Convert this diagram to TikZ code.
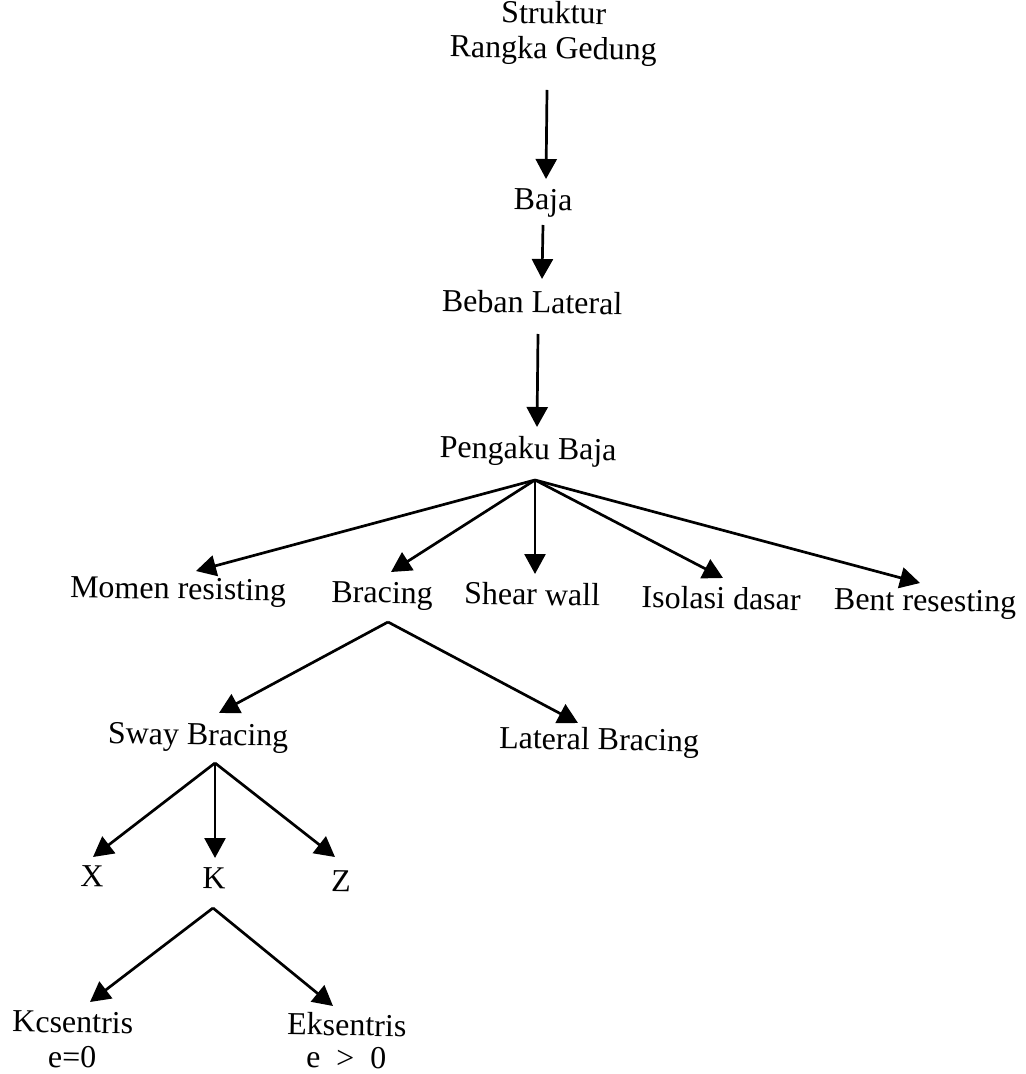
\documentclass[tikz,border=0pt]{standalone}
\usepackage{fontspec}
\setmainfont{Liberation Serif}
\usetikzlibrary{arrows.meta}
\begin{document}
\begin{tikzpicture}[x=0.5pt,y=-0.5pt,
  lbl/.style={inner sep=0pt, anchor=base, rotate=-0.9, font=\fontsize{16}{14}\selectfont},
  arr/.style={line width=1.35pt, -{Triangle[length=10pt,width=10.5pt]}}]
\useasboundingbox (0,0) rectangle (1025,1074);
% text nodes
\node[lbl, anchor=north, align=center] (top) at (554,1) {Struktur\\[3.5pt]Rangka Gedung};
\node[lbl] (baja) at (543,210) {Baja};
\node[lbl] (beban) at (532,313) {Beban Lateral};
\node[lbl] (pengaku) at (528,459) {Pengaku Baja};
\node[lbl] (momen) at (178,599) {Momen resisting};
\node[lbl] (bracing) at (382,603) {Bracing};
\node[lbl] (shear) at (532,605) {Shear wall};
\node[lbl] (isolasi) at (721,609) {Isolasi dasar};
\node[lbl] (bent) at (925,611) {Bent resesting};
\node[lbl] (sway) at (198,745) {Sway Bracing};
\node[lbl] (lateral) at (599,750) {Lateral Bracing};
\node[lbl] (x) at (92,887) {X};
\node[lbl] (k) at (214,889) {K};
\node[lbl] (z) at (341,892) {Z};
\node[lbl, anchor=north, align=center] (kcs) at (73,1011) {Kcsentris\\[3.5pt]e=0};
\node[lbl, anchor=north, align=center] (eks) at (347,1013) {Eksentris\\[2.5pt]e\ \ >\ \ 0};
% connector ends
\coordinate (topS) at (547,90);   \coordinate (bajaN) at (546,179);
\coordinate (bajaS) at (543,225); \coordinate (bebanN) at (542,279);
\coordinate (bebanS) at (538,334); \coordinate (pengakuN) at (537,427);
\coordinate (pengakuS) at (535,480);
\coordinate (momenN) at (196,571);
\coordinate (bracingN) at (391,572);
\coordinate (shearN) at (535,574);
\coordinate (isolasiN) at (723,578);
\coordinate (bentN) at (920,583);
\coordinate (bracingS) at (388,622);
\coordinate (swayN) at (219,713);
\coordinate (lateralN) at (578,723);
\coordinate (swayS) at (215,763);
\coordinate (xN) at (93,857);
\coordinate (kN) at (215,858);
\coordinate (zN) at (335,857);
\coordinate (kS) at (213,908);
\coordinate (kcsN) at (90,1002);
\coordinate (eksN) at (333,1006);
% connectors
\draw[arr] (topS) -- (bajaN);
\draw[arr] (bajaS) -- (bebanN);
\draw[arr] (bebanS) -- (pengakuN);
\draw[arr] (pengakuS) -- (momenN);
\draw[arr] (pengakuS) -- (bracingN);
\draw[arr] (pengakuS) -- (shearN);
\draw[arr] (pengakuS) -- (isolasiN);
\draw[arr] (pengakuS) -- (bentN);
\draw[arr] (bracingS) -- (swayN);
\draw[arr] (bracingS) -- (lateralN);
\draw[arr] (swayS) -- (xN);
\draw[arr] (swayS) -- (kN);
\draw[arr] (swayS) -- (zN);
\draw[arr] (kS) -- (kcsN);
\draw[arr] (kS) -- (eksN);
\end{tikzpicture}
\end{document}
